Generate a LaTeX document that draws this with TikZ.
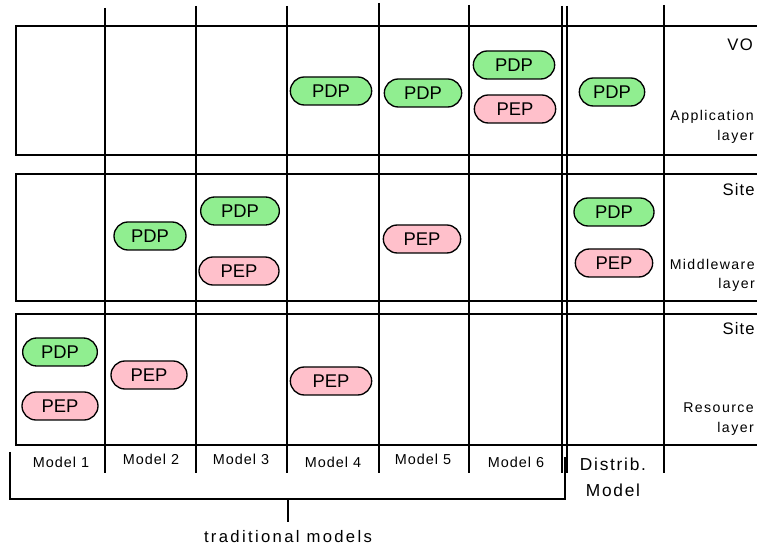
\documentclass[tikz,border=0pt]{standalone}
\usepackage{fontspec}
\setmainfont{Liberation Sans}
\newfontfamily\spaced[LetterSpace=7]{Liberation Sans}
\newfontfamily\spacedb[LetterSpace=10]{Liberation Sans}
\newfontfamily\spacedc[LetterSpace=14]{Liberation Sans}
\usetikzlibrary{shapes.misc}
\definecolor{pdpgreen}{HTML}{90EE90}
\definecolor{peppink}{HTML}{FFC0CB}
\tikzset{
  band/.style={line width=2.2pt},
  col/.style={line width=1.5pt},
  brk/.style={line width=1.5pt},
  pill/.style={draw, line width=1pt, rounded rectangle, inner sep=0pt, minimum height=21pt, font=\fontsize{13.8}{14}\selectfont},
  pdp/.style={pill, fill=pdpgreen},
  pep/.style={pill, fill=peppink},
  modlab/.style={font=\spaced\fontsize{10.8}{12}\selectfont, inner sep=0pt},
  sidelab/.style={font=\spacedb\fontsize{10.6}{12}\selectfont, anchor=east, inner sep=0pt},
  toplab/.style={font=\spaced\fontsize{12.5}{14}\selectfont, anchor=east, inner sep=0pt},
}
\begin{document}
\begin{tikzpicture}[x=0.75pt,y=-0.75pt]
\useasboundingbox (0,0) rectangle (757,548);
% column lines
\foreach \x/\y/\n in {105/8/a,196/6/b,287/6/c,379/3/d,469/5/e,562/6/f,567/6/g,664/5/h}{
  \coordinate (t\n) at (\x,\y);
  \coordinate (b\n) at (\x,473);
  \draw[col] (t\n) -- (b\n);
}
% bands
\coordinate (b1a) at (757,26); \coordinate (b1b) at (16,26);
\coordinate (b1c) at (16,155); \coordinate (b1d) at (757,155);
\draw[band] (b1a) -- (b1b) -- (b1c) -- (b1d);
\coordinate (b2a) at (757,174); \coordinate (b2b) at (16,174);
\coordinate (b2c) at (16,301); \coordinate (b2d) at (757,301);
\draw[band] (b2a) -- (b2b) -- (b2c) -- (b2d);
\coordinate (b3a) at (757,314); \coordinate (b3b) at (16,314);
\coordinate (b3c) at (16,445); \coordinate (b3d) at (757,445);
\draw[band] (b3a) -- (b3b) -- (b3c) -- (b3d);
% bracket
\coordinate (k1) at (10,452); \coordinate (k2) at (10,499);
\coordinate (k3) at (565,499); \coordinate (k4) at (565,457);
\coordinate (k5) at (288,499); \coordinate (k6) at (288,522);
\draw[brk] (k1) -- (k2) -- (k3) -- (k4);
\draw[brk] (k5) -- (k6);
% pills band 1
\node[pdp, minimum width=61pt] (p1) at (331,91) {PDP};
\node[pdp, minimum width=58pt] (p2) at (423,93) {PDP};
\node[pdp, minimum width=61pt] (p3) at (514,65) {PDP};
\node[pep, minimum width=61pt] (p4) at (515,109) {PEP};
\node[pdp, minimum width=49pt] (p5) at (612,92) {PDP};
% band 2
\node[pdp, minimum width=54pt] (p6) at (150,236) {PDP};
\node[pdp, minimum width=59pt] (p7) at (240,211) {PDP};
\node[pep, minimum width=60pt] (p8) at (239,271) {PEP};
\node[pep, minimum width=58pt] (p9) at (422,239) {PEP};
\node[pdp, minimum width=60pt] (p10) at (614,212) {PDP};
\node[pep, minimum width=58pt] (p11) at (614,263) {PEP};
% band 3
\node[pdp, minimum width=56pt] (p12) at (60,352) {PDP};
\node[pep, minimum width=57pt] (p13) at (60,406) {PEP};
\node[pep, minimum width=57pt] (p14) at (149,375) {PEP};
\node[pep, minimum width=61pt] (p15) at (331,381) {PEP};
% model labels
\node[modlab] (m1) at (61,462) {Model 1};
\node[modlab] (m2) at (151,459) {Model 2};
\node[modlab] (m3) at (241,459) {Model 3};
\node[modlab] (m4) at (333,462) {Model 4};
\node[modlab] (m5) at (423,459) {Model 5};
\node[modlab] (m6) at (516,462) {Model 6};
\node[font=\spacedb\fontsize{13}{14}\selectfont, inner sep=0pt] (d1) at (613,464) {Distrib.};
\node[font=\spacedb\fontsize{13}{14}\selectfont, inner sep=0pt] (d2) at (613,490) {Model};
\node[font=\spacedc\fontsize{12.5}{14}\selectfont, inner sep=0pt] (tm) at (288,537) {traditional models};
% side labels
\node[toplab] (vo) at (753,45) {VO};
\node[sidelab] (ap) at (754,117) {Application};
\node[sidelab] (ly1) at (754,137) {layer};
\node[toplab] (s1) at (755,190) {Site};
\node[sidelab] (mw) at (755,264) {Middleware};
\node[sidelab] (ly2) at (755,285) {layer};
\node[toplab] (s2) at (755,329) {Site};
\node[sidelab] (rs) at (754,408) {Resource};
\node[sidelab] (ly3) at (754,429) {layer};
\end{tikzpicture}
\end{document}
